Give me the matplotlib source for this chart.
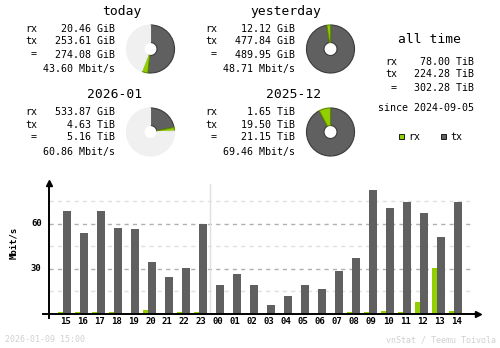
import matplotlib
matplotlib.use("Agg")
import matplotlib.pyplot as plt

# hourly traffic, Mbit/s
hours = ["15", "16", "17", "18", "19", "20", "21", "22", "23", "00", "01", "02",
         "03", "04", "05", "06", "07", "08", "09", "10", "11", "12", "13", "14"]
tx_rate = [68.7, 54.0, 68.7, 57.3, 56.7, 34.7, 24.7, 30.7, 60.0, 19.3, 26.7, 19.3,
           6.0, 12.0, 19.3, 16.7, 28.7, 37.3, 82.7, 70.7, 74.7, 67.3, 51.3, 74.7]
rx_rate = [1.3, 1.3, 1.3, 1.3, 0.7, 2.7, 0.7, 1.3, 1.3, 0.7, 0.2, 0.7,
           0.0, 0.7, 0.0, 0.0, 0.7, 1.3, 1.3, 2.0, 1.3, 8.0, 30.7, 2.0]

# summary blocks
today = {"rx": 20.46, "tx": 253.61, "total": 274.08}            # GiB
yesterday = {"rx": 12.12, "tx": 477.84, "total": 489.95}        # GiB
this_month = {"rx": 533.87 / 1024, "tx": 4.63, "total": 5.16}   # TiB
last_month = {"rx": 1.65, "tx": 19.50, "total": 21.15}          # TiB

RX = "#92cf00"
TX = "#606060"
RX_EDGE = "#5f8a00"
TX_EDGE = "#3a3a3a"
REST = "#f0f0f0"
MONO = "DejaVu Sans Mono"
W, H = 500, 348

plt.rcParams["lines.scale_dashes"] = False

fig = plt.figure(figsize=(W / 100, H / 100), dpi=100)
fig.patch.set_facecolor("white")

# pixel overlay for text
ov = fig.add_axes([0, 0, 1, 1])
ov.set_xlim(0, W)
ov.set_ylim(H, 0)
ov.axis("off")


def txt(x, y, s, size=7.2, ha="left", color="black", **kw):
    ov.text(x, y, s, fontsize=size, ha=ha, va="center", family=MONO, color=color, **kw)


def block(x_lab, x_val, x_title, y0, title, rx, tx, tot, rate):
    txt(x_title, y0, title, size=9.4, ha="right")
    txt(x_lab, y0 + 17.5, "rx")
    txt(x_lab, y0 + 30, "tx")
    txt(x_lab + 6, y0 + 43, "=")
    txt(x_val, y0 + 17.5, rx, ha="right")
    txt(x_val, y0 + 30, tx, ha="right")
    txt(x_val, y0 + 43, tot, ha="right")
    txt(x_val, y0 + 57.5, rate, ha="right")


block(25, 115, 142, 11.5, "today", "20.46 GiB", "253.61 GiB", "274.08 GiB", "43.60 Mbit/s")
block(25, 115, 142, 94.5, "2026-01", "533.87 GiB", "4.63 TiB", "5.16 TiB", "60.86 Mbit/s")
block(205, 295, 321, 11.5, "yesterday", "12.12 GiB", "477.84 GiB", "489.95 GiB", "48.71 Mbit/s")
block(205, 295, 321, 94.5, "2025-12", "1.65 TiB", "19.50 TiB", "21.15 TiB", "69.46 Mbit/s")

txt(429, 39.5, "all time", size=9.4, ha="center")
txt(385, 62, "rx")
txt(385, 74, "tx")
txt(391, 88, "=")
txt(474, 62, "78.00 TiB", ha="right")
txt(474, 74, "224.28 TiB", ha="right")
txt(474, 88, "302.28 TiB", ha="right")
txt(474, 108, "since 2024-09-05", ha="right")
ov.add_patch(plt.Rectangle((399, 134), 5, 5, facecolor=RX, edgecolor="#000000", lw=0.6))
txt(408, 136.5, "rx")
ov.add_patch(plt.Rectangle((441, 134), 5, 5, facecolor=TX, edgecolor="#000000", lw=0.6))
txt(450, 136.5, "tx")

txt(5, 340, "2026-01-09 15:00", size=6, color="#d0d0d0")
txt(496, 340, "vnStat / Teemu Toivola", size=6, ha="right", color="#d0d0d0")


def pie(cx, cy, parts, colors, edges, r=24.5):
    a = fig.add_axes([(cx - r) / W, (H - cy - r) / H, 2 * r / W, 2 * r / H])
    wedges, _ = a.pie(parts, colors=colors, startangle=90, counterclock=False,
                      wedgeprops=dict(width=0.73, linewidth=0.8))
    for wd, ec in zip(wedges, edges):
        wd.set_edgecolor(ec)
        wd.set_clip_on(False)
    a.set_xlim(-1.02, 1.02)
    a.set_ylim(-1.02, 1.02)
    a.axis("off")


pie(150.5, 49, [today["tx"], today["rx"], yesterday["total"] - today["total"]],
    [TX, RX, REST], [TX_EDGE, RX_EDGE, REST])
pie(330.5, 49, [yesterday["tx"], yesterday["rx"]], [TX, RX], [TX_EDGE, RX_EDGE])
pie(150.5, 132, [this_month["tx"], this_month["rx"], last_month["total"] - this_month["total"]],
    [TX, RX, REST], [TX_EDGE, RX_EDGE, REST])
pie(330.5, 132, [last_month["tx"], last_month["rx"]], [TX, RX], [TX_EDGE, RX_EDGE])

# hourly bar chart, axes mapped so one hour = 17 px and 1 Mbit/s = 1.5 px
x0_px, x1_px, base_px, top_px = 48.5, 478, 313.8, 183
ax = fig.add_axes([x0_px / W, (H - base_px) / H, (x1_px - x0_px) / W, (base_px - top_px) / H])
ax.set_xlim(-1.0, (x1_px - 65) / 17)
ax.set_ylim(0, (base_px - top_px) / 1.5)
ax.axis("off")

idx = list(range(len(hours)))
for yv in [15, 45, 75]:
    ax.plot([-1.0, 23.9], [yv, yv], color="#e0e0e0", lw=1, dashes=(3, 3), zorder=1)
for yv in [30, 60]:
    ax.plot([-1.0, 23.9], [yv, yv], color="#b0b0b0", lw=1, dashes=(3, 3), zorder=1)
ax.plot([8.5, 8.5], [0, 86.5], color="#e0e0e0", lw=1, zorder=1)

ax.bar([i - 7 / 17 for i in idx], rx_rate, width=5 / 17, align="edge", color=RX, zorder=2)
ax.bar([i - 2 / 17 for i in idx], tx_rate, width=8 / 17, align="edge", color=TX, zorder=3)

# axis lines with arrows
ax.plot([-0.012, 1.0], [0, 0], color="black", lw=1.4, transform=ax.transAxes, clip_on=False, zorder=4)
ax.plot([0, 0], [-0.03, 1.0], color="black", lw=1.4, transform=ax.transAxes, clip_on=False, zorder=4)
ax.plot([1.0], [0], marker=">", color="black", ms=4, transform=ax.transAxes, clip_on=False, zorder=4)
ax.plot([0], [1.0], marker="^", color="black", ms=4, transform=ax.transAxes, clip_on=False, zorder=4)

for i, h in zip(idx, hours):
    ax.text(i, -5, h, ha="center", va="center", fontsize=6.5, family=MONO,
            fontweight="bold", clip_on=False)
for yv in [30, 60]:
    ax.text(-1.4, yv, str(yv), ha="right", va="center", fontsize=6.5, family=MONO,
            fontweight="bold", clip_on=False)
txt(14, 243, "Mbit/s", size=6.5, ha="center", rotation=90, fontweight="bold")

fig.savefig("out.png", dpi=100, facecolor="white")
